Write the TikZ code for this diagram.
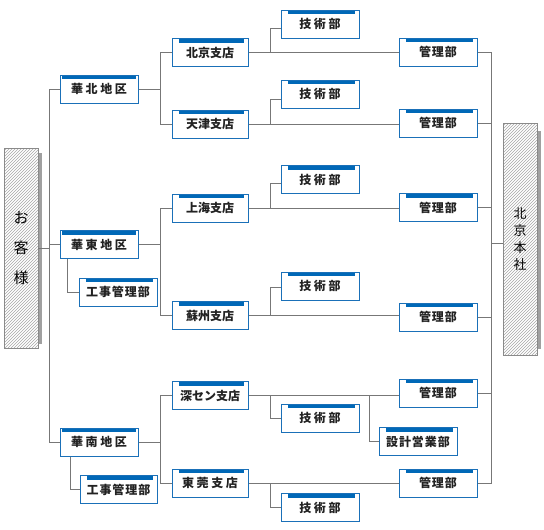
\documentclass[tikz,border=0pt]{standalone}
\usepackage{fontspec}
\usetikzlibrary{calc,patterns}
\newfontfamily\jp{Noto Sans CJK JP}
\newfontfamily\jpsp{Noto Sans CJK JP}[LetterSpace=22]
\newfontfamily\jpsm{Noto Sans CJK JP}[LetterSpace=8]
\definecolor{boxblue}{HTML}{1A70B8}
\definecolor{barblue}{HTML}{0068B7}
\definecolor{linegray}{HTML}{777777}
\definecolor{txt}{HTML}{222222}
\definecolor{shadowgray}{HTML}{A0A0A0}
\definecolor{sideborder}{HTML}{8A8A8A}
\tikzset{
  base/.style={draw=boxblue, line width=1pt, fill=white, inner sep=0pt,
    minimum height=28, text=txt, font=\jp\bfseries\fontsize{12}{14}\selectfont},
  unitbox/.style={base, minimum width=77,
    path picture={\fill[barblue] ($(path picture bounding box.north west)+(7,0)$) rectangle ($(path picture bounding box.north east)+(-4,4)$);}},
  regionbox/.style={base, minimum width=78,
    path picture={\fill[barblue] ($(path picture bounding box.north west)+(2,0)$) rectangle ($(path picture bounding box.north east)+(-2,4)$);}},
  sidebox/.style={draw=sideborder, line width=0.8pt, pattern=north east lines, pattern color=black!35,
    minimum width=34, inner sep=0pt, align=center, text=black},
  conn/.style={draw=linegray, line width=1pt},
}
\begin{document}
\begin{tikzpicture}[x=1pt,y=-1pt]
\useasboundingbox (0,0) rectangle (544,530);
% side boxes
\node[sidebox, minimum height=200, font=\jp\fontsize{15}{30}\selectfont] (okyaku) at (21,248) {お\\客\\様};
\node[sidebox, minimum height=232, font=\jp\fontsize{13}{17}\selectfont] (honsha) at (520,239) {北\\京\\本\\社};
\fill[shadowgray] ($(okyaku.north east)+(0.5,5)$) rectangle ($(okyaku.south east)+(4,-4)$);
\fill[shadowgray] ($(honsha.north east)+(0.5,8)$) rectangle ($(honsha.south east)+(3.5,-6)$);
% regions
\node[regionbox] (kahoku) at (99,89) {\jpsp\bfseries 華北地区};
\node[regionbox] (katou) at (99,244.5) {\jpsp\bfseries 華東地区};
\node[regionbox] (kanan) at (99,442) {\jpsp\bfseries 華南地区};
\node[unitbox, minimum width=78] (kouji1) at (118,292) {\jpsm\bfseries 工事管理部};
\node[unitbox] (kouji2) at (118.5,489.5) {\jpsm\bfseries 工事管理部};
% branches
\node[unitbox, minimum width=76] (beijing) at (210,52.5) {北京支店};
\node[unitbox, minimum width=76] (tianjin) at (210,124) {天津支店};
\node[unitbox, minimum width=76] (shanghai) at (210,208) {上海支店};
\node[unitbox, minimum width=76] (suzhou) at (210,315.5) {蘇州支店};
\node[unitbox, minimum width=76] (shenzhen) at (210,395.5) {深セン支店};
\node[unitbox, minimum width=76] (dongguan) at (210,483) {\jpsp\bfseries 東莞支店};
% tech
\node[unitbox, minimum width=78] (g1) at (320,24) {\jpsp\bfseries 技術部};
\node[unitbox, minimum width=78] (g2) at (320,94) {\jpsp\bfseries 技術部};
\node[unitbox, minimum width=78] (g3) at (320,179.5) {\jpsp\bfseries 技術部};
\node[unitbox, minimum width=78] (g4) at (320,286) {\jpsp\bfseries 技術部};
\node[unitbox, minimum width=78] (g5) at (320,418) {\jpsp\bfseries 技術部};
\node[unitbox, minimum width=78] (g6) at (320,507.5) {\jpsp\bfseries 技術部};
% management
\node[unitbox, minimum width=78] (k1) at (438,52) {\jpsm\bfseries 管理部};
\node[unitbox, minimum width=78] (k2) at (438,123) {\jpsm\bfseries 管理部};
\node[unitbox, minimum width=78] (k3) at (438,207.5) {\jpsm\bfseries 管理部};
\node[unitbox, minimum width=78] (k4) at (438,317) {\jpsm\bfseries 管理部};
\node[unitbox, minimum width=78] (k5) at (438,393) {\jpsm\bfseries 管理部};
\node[unitbox, minimum width=78] (k6) at (438,483) {\jpsm\bfseries 管理部};
\node[unitbox, minimum width=78] (sekkei) at (418,441.5) {\jpsm\bfseries 設計営業部};
% junction coordinates
\coordinate (lt) at (49,0);
\coordinate (m) at (160,0);
\coordinate (j) at (270,0);
\coordinate (j2) at (369,0);
\coordinate (rt) at (491,0);
% left trunk
\draw[conn] (okyaku.east) -- (okyaku.east -| lt);
\draw[conn] (kahoku.west) -- (kahoku.west -| lt) -- (kanan.west -| lt) -- (kanan.west);
\draw[conn] (katou.west) -- (katou.west -| lt);
% region to branches
\draw[conn] (kahoku.east) -- (kahoku.east -| m);
\draw[conn] (beijing.west) -- (beijing.west -| m) -- (tianjin.west -| m) -- (tianjin.west);
\draw[conn] (katou.east) -- (katou.east -| m);
\draw[conn] (shanghai.west) -- (shanghai.west -| m) -- (suzhou.west -| m) -- (suzhou.west);
\draw[conn] (kanan.east) -- (kanan.east -| m);
\draw[conn] (shenzhen.west) -- (shenzhen.west -| m) -- (dongguan.west -| m) -- (dongguan.west);
% construction depts
\draw[conn] ($(katou.south west)+(8,0)$) |- (kouji1.west);
\draw[conn] ($(kanan.south west)+(11,0)$) |- (kouji2.west);
% branch to management
\draw[conn] (beijing.east) -- (beijing.east -| k1.west);
\draw[conn] (tianjin.east) -- (tianjin.east -| k2.west);
\draw[conn] (shanghai.east) -- (shanghai.east -| k3.west);
\draw[conn] (suzhou.east) -- (suzhou.east -| k4.west);
\draw[conn] (shenzhen.east) -- (shenzhen.east -| k5.west);
\draw[conn] (dongguan.east) -- (dongguan.east -| k6.west);
% branch to tech
\draw[conn] (beijing.east -| j) |- ($(g1.west)+(0,4)$);
\draw[conn] (tianjin.east -| j) |- ($(g2.west)+(0,5)$);
\draw[conn] (shanghai.east -| j) |- ($(g3.west)+(0,4)$);
\draw[conn] (suzhou.east -| j) |- ($(g4.west)+(0,1)$);
\draw[conn] (shenzhen.east -| j) |- (g5.west);
\draw[conn] (dongguan.east -| j) |- (g6.west);
\draw[conn] (shenzhen.east -| j2) |- (sekkei.west);
% right trunk
\draw[conn] (k1.east) -- (k1.east -| rt) -- (k6.east -| rt) -- (k6.east);
\draw[conn] (k2.east) -- (k2.east -| rt);
\draw[conn] (k3.east) -- (k3.east -| rt);
\draw[conn] (k4.east) -- (k4.east -| rt);
\draw[conn] (k5.east) -- (k5.east -| rt);
\draw[conn] ($(honsha.west)+(0,4)$) -- ($(honsha.west -| rt)+(0,4)$);
\end{tikzpicture}
\end{document}
